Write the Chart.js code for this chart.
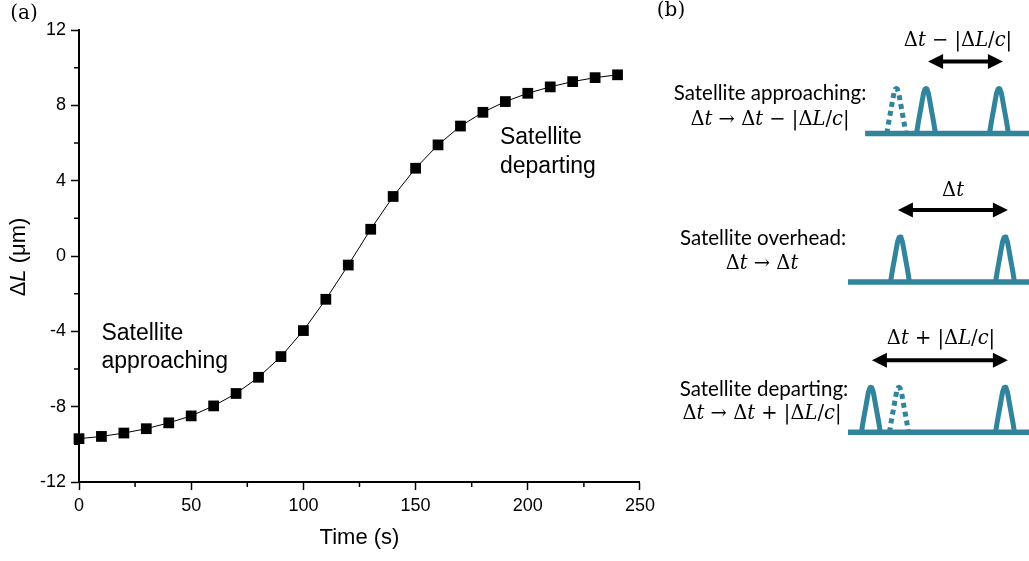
<!DOCTYPE html>
<html>
<head>
<meta charset="utf-8">
<script src="https://cdn.jsdelivr.net/npm/chart.js@4.4.1/dist/chart.umd.min.js"></script>
<style>
html, body { margin: 0; padding: 0; background: #fff; }
#wrap { position: relative; width: 1029px; height: 561px; overflow: hidden; }
#chartA { position: absolute; left: 0; top: 0; }
#chartB { position: absolute; left: 840px; top: 0; }
.lbl { position: absolute; white-space: nowrap; transform: translate(-50%, -50%); color: #000; line-height: 1; }
.panel { font-family: "DejaVu Serif", serif; font-size: 20px; }
.ytitle { font-family: "Liberation Sans", Arial, sans-serif; font-size: 22px; transform: translate(-50%, -50%) rotate(-90deg); }
.desc { font-family: Lato, "Open Sans", sans-serif; font-size: 20.5px; }
.math { font-family: "DejaVu Serif", serif; font-size: 19.5px; }
</style>
</head>
<body>
<div id="wrap">
  <canvas id="chartA" width="660" height="561"></canvas>
  <canvas id="chartB" width="189" height="561"></canvas>

  <div class="lbl panel" style="left:24px;top:12px;">(a)</div>
  <div class="lbl panel" style="left:671px;top:9px;">(b)</div>
  <div class="lbl ytitle" style="left:18px;top:257px;">&Delta;<i>L</i> (&mu;m)</div>

  <div class="lbl math" style="left:958px;top:40px;">&Delta;<i>t</i> &minus; |&Delta;<i>L</i>/<i>c</i>|</div>
  <div class="lbl desc" style="left:770px;top:92px;">Satellite approaching:</div>
  <div class="lbl math" style="left:770px;top:119px;">&Delta;<i>t</i> &rarr; &Delta;<i>t</i> &minus; |&Delta;<i>L</i>/<i>c</i>|</div>

  <div class="lbl math" style="left:953px;top:190px;">&Delta;<i>t</i></div>
  <div class="lbl desc" style="left:763px;top:237px;">Satellite overhead:</div>
  <div class="lbl math" style="left:762px;top:263px;">&Delta;<i>t</i> &rarr; &Delta;<i>t</i></div>

  <div class="lbl math" style="left:941px;top:338px;">&Delta;<i>t</i> + |&Delta;<i>L</i>/<i>c</i>|</div>
  <div class="lbl desc" style="left:764px;top:388px;">Satellite departing:</div>
  <div class="lbl math" style="left:762px;top:413px;">&Delta;<i>t</i> &rarr; &Delta;<i>t</i> + |&Delta;<i>L</i>/<i>c</i>|</div>
</div>
<script>
(function(){
    "use strict";

    // panel (a) data
    const times = [0, 10, 20, 30, 40, 50, 60, 70, 80, 90, 100, 110, 120, 130, 140, 150, 160, 170, 180, 190, 200, 210, 220, 230, 240];
    const deltaL = [-9.70, -9.58, -9.40, -9.17, -8.86, -8.49, -7.96, -7.30, -6.44, -5.34, -3.96, -2.30, -0.48, 1.42, 3.16, 4.66, 5.90, 6.90, 7.63, 8.20, 8.64, 8.98, 9.26, 9.47, 9.62];
    const xTicks = [0, 50, 100, 150, 200, 250];
    const yTicks = [-12, -8, -4, 0, 4, 8, 12];
    const xMinorTicks = [25, 75, 125, 175, 225];
    const yMinorTicks = [-10, -6, -2, 2, 6, 10];
    const notes = [
        { x: 10, y: -4.1, lines: ['Satellite', 'approaching'] },
        { x: 187.6, y: 6.26, lines: ['Satellite', 'departing'] }
    ];

    // panel (b) schematic: units of pulse height (y) and Δt/4 (x)
    const pulseShapeX = [-1, -0.85, -0.7, -0.55, -0.4, -0.25, -0.1, 0, 0.1, 0.25, 0.4, 0.55, 0.7, 0.85, 1];
    const pulseShapeY = [0, 0.2, 0.38, 0.55, 0.73, 0.9, 0.99, 1, 0.99, 0.9, 0.73, 0.55, 0.38, 0.2, 0];
    const rowBaselines = [9.5, 6.2, 2.86];
    const baselineStarts = [-1.33, -1.98, -1.98];
    const solidPulses = [[0.99, 3.77], [0, 4], [-1.11, 4]];
    const dottedPulses = [[-0.14], [], [-0.04]];
    const arrowSpans = [[1.07, 3.92], [-0.08, 4.11], [-1.07, 4.11]];
    const arrowRise = 1.6;
    const pulseHalfWidth = 0.36;

    const axisFont = { family: '"Liberation Sans", Arial, sans-serif', size: 18 };
    const teal = '#31849b';

    const minorTicks = {
        id: 'minorTicks',
        afterDraw(chart) {
            const { ctx, chartArea, scales } = chart;
            ctx.save();
            ctx.strokeStyle = '#000';
            ctx.lineWidth = 1.5;
            ctx.beginPath();
            xMinorTicks.forEach(v => {
                const px = scales.x.getPixelForValue(v);
                ctx.moveTo(px, chartArea.bottom); ctx.lineTo(px, chartArea.bottom + 5);
            });
            yMinorTicks.forEach(v => {
                const py = scales.y.getPixelForValue(v);
                ctx.moveTo(chartArea.left, py); ctx.lineTo(chartArea.left - 5, py);
            });
            ctx.stroke();
            ctx.fillStyle = '#000';
            ctx.font = '23px "Liberation Sans", Arial, sans-serif';
            ctx.textBaseline = 'middle';
            notes.forEach(n => {
                const px = scales.x.getPixelForValue(n.x), py = scales.y.getPixelForValue(n.y);
                n.lines.forEach((t, i) => ctx.fillText(t, px, py + i * 28.5));
            });
            ctx.restore();
        }
    };

    new Chart(document.getElementById('chartA'), {
        type: 'line',
        data: {
            datasets: [{
                data: times.map((t, i) => ({ x: t, y: deltaL[i] })),
                borderColor: '#000',
                borderWidth: 1,
                pointStyle: 'rect',
                pointRadius: 7.6,
                pointBackgroundColor: '#000',
                pointBorderColor: '#000',
                pointBorderWidth: 0,
                tension: 0,
                clip: false
            }]
        },
        options: {
            responsive: false,
            animation: false,
            layout: { padding: { top: 30, right: 19, left: 0, bottom: 0 } },
            plugins: { legend: { display: false }, tooltip: { enabled: false } },
            scales: {
                x: {
                    type: 'linear', min: 0, max: 250,
                    afterBuildTicks: s => { s.ticks = xTicks.map(v => ({ value: v })); },
                    afterFit: s => { s.height = 79; },
                    ticks: { color: '#000', font: axisFont, padding: 5, maxRotation: 0 },
                    grid: { drawOnChartArea: false, tickLength: 8, tickColor: '#000', tickWidth: 1.5 },
                    border: { color: '#000', width: 2 },
                    title: { display: true, text: 'Time (s)', color: '#000', font: { family: axisFont.family, size: 22 }, padding: { top: 0, bottom: 10 } }
                },
                y: {
                    type: 'linear', min: -12, max: 12,
                    afterBuildTicks: s => { s.ticks = yTicks.map(v => ({ value: v })); },
                    afterFit: s => { s.width = 79; },
                    ticks: { color: '#000', font: axisFont, padding: 5 },
                    grid: { drawOnChartArea: false, tickLength: 8, tickColor: '#000', tickWidth: 1.5 },
                    border: { color: '#000', width: 2 }
                }
            }
        },
        plugins: [minorTicks]
    });

    // panel (b)
    function pulseData(center, base) {
        return pulseShapeX.map((fx, i) => ({ x: center + fx * pulseHalfWidth, y: base + pulseShapeY[i] }));
    }
    const schematic = [];
    rowBaselines.forEach((base, r) => {
        schematic.push({ data: [{ x: baselineStarts[r], y: base }, { x: 5.2, y: base }], borderWidth: 5.5 });
        solidPulses[r].forEach(c => schematic.push({ data: pulseData(c, base), borderWidth: 5 }));
        dottedPulses[r].forEach(c => schematic.push({ data: pulseData(c, base), borderWidth: 5, borderDash: [5, 4] }));
    });
    schematic.forEach(d => { d.borderColor = teal; d.pointRadius = 0; d.showLine = true; d.tension = 0; d.clip = false; d.borderCapStyle = 'butt'; d.borderJoinStyle = 'round'; });

    const arrows = {
        id: 'arrows',
        afterDatasetsDraw(chart) {
            const { ctx, scales } = chart;
            const head = 15, half = 7.5;
            ctx.save();
            ctx.strokeStyle = '#000';
            ctx.fillStyle = '#000';
            ctx.lineWidth = 4;
            rowBaselines.forEach((base, r) => {
                const y = scales.y.getPixelForValue(base + arrowRise);
                const x1 = scales.x.getPixelForValue(arrowSpans[r][0]);
                const x2 = scales.x.getPixelForValue(arrowSpans[r][1]);
                ctx.beginPath();
                ctx.moveTo(x1 + head - 1, y); ctx.lineTo(x2 - head + 1, y);
                ctx.stroke();
                ctx.beginPath();
                ctx.moveTo(x1, y); ctx.lineTo(x1 + head, y - half); ctx.lineTo(x1 + head, y + half); ctx.closePath();
                ctx.moveTo(x2, y); ctx.lineTo(x2 - head, y - half); ctx.lineTo(x2 - head, y + half); ctx.closePath();
                ctx.fill();
            });
            ctx.restore();
        }
    };

    new Chart(document.getElementById('chartB'), {
        type: 'scatter',
        data: { datasets: schematic },
        options: {
            responsive: false,
            animation: false,
            layout: { padding: 0 },
            plugins: { legend: { display: false }, tooltip: { enabled: false } },
            scales: {
                x: { type: 'linear', display: false, min: -2.2857, max: 4.914 },
                y: { type: 'linear', display: false, min: 0, max: 12.467 }
            }
        },
        plugins: [arrows]
    });
})();
</script>
</body>
</html>
